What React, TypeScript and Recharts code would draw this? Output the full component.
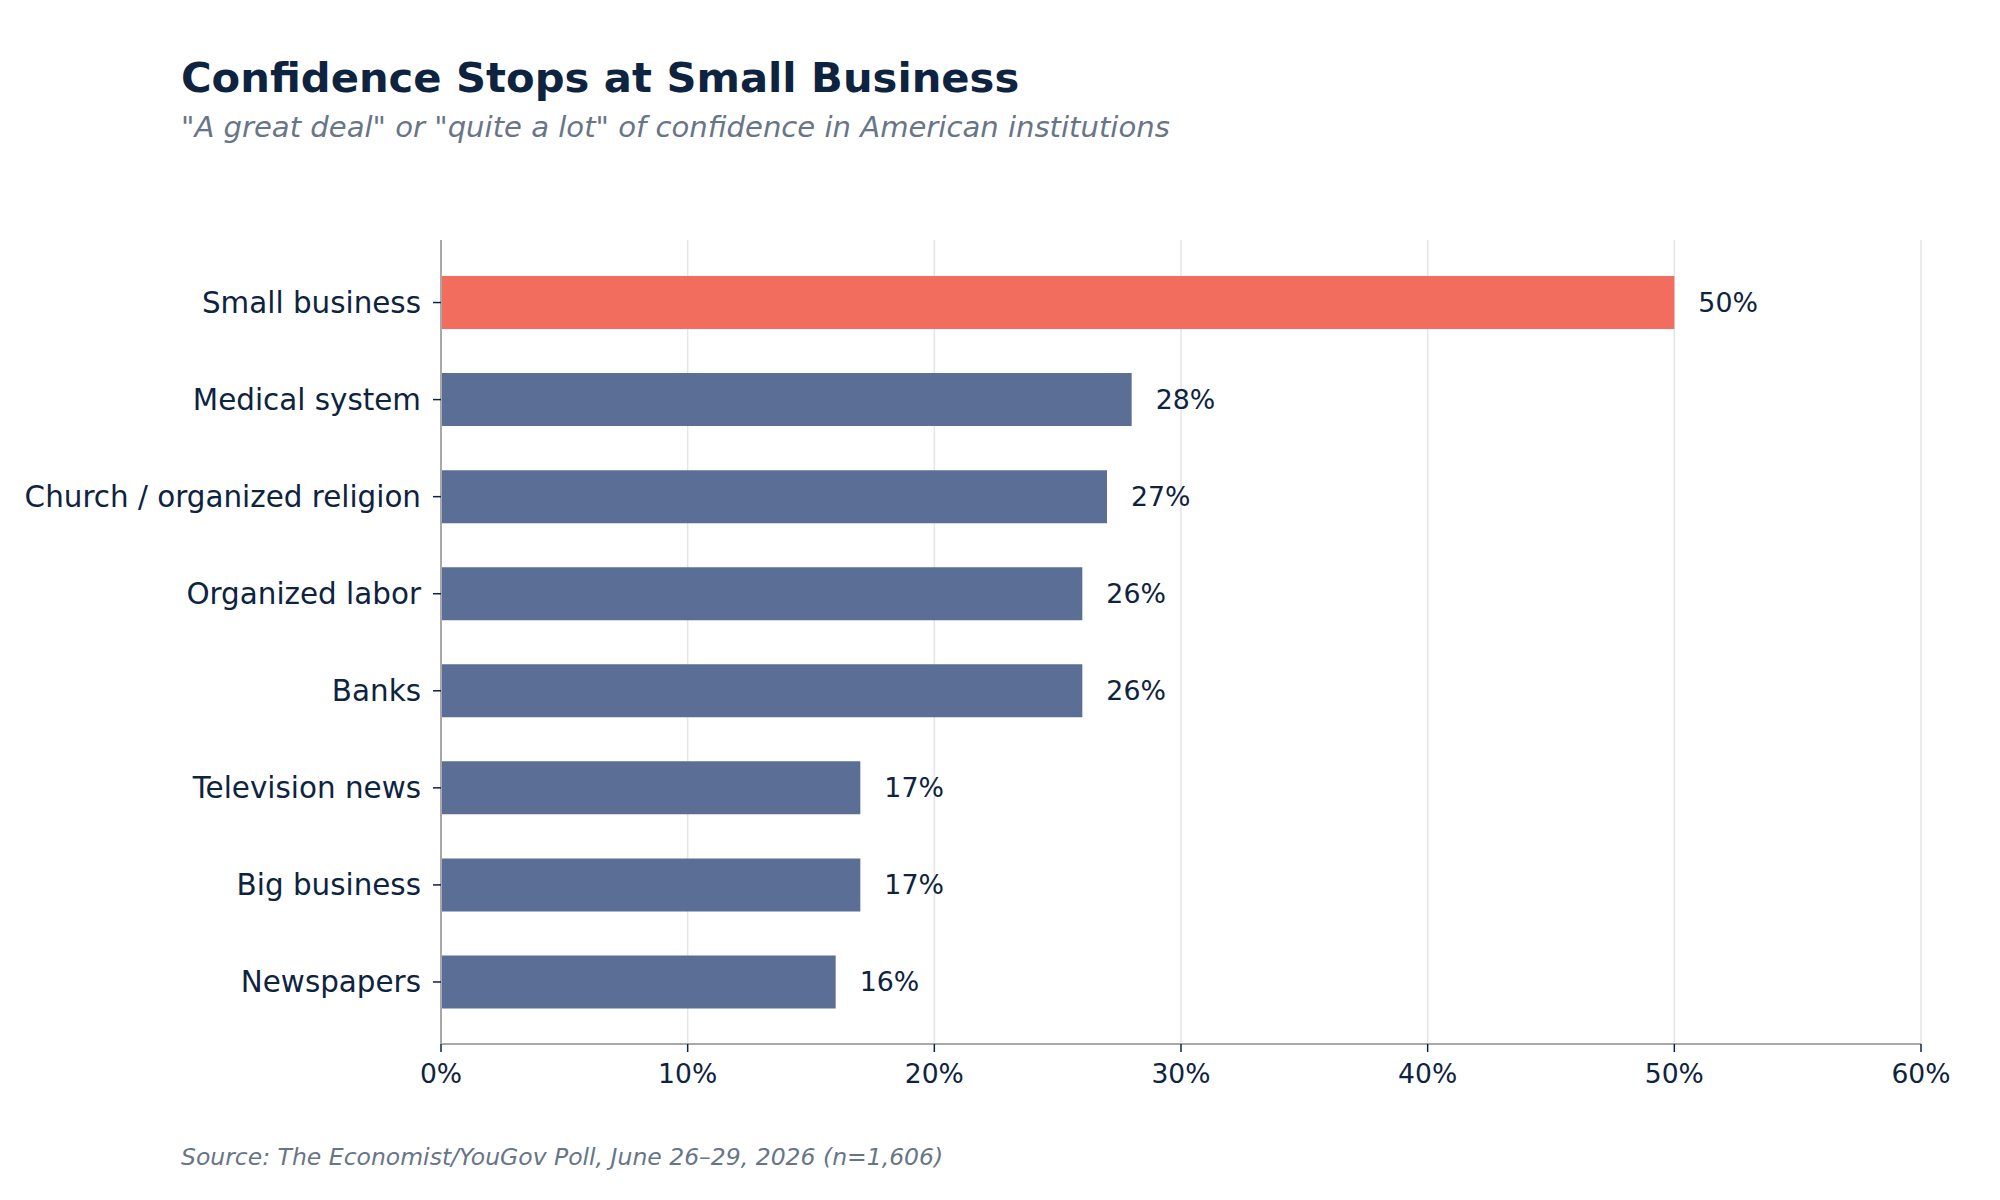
import React from "react";
import { BarChart, Bar, XAxis, YAxis, CartesianGrid, Cell, LabelList } from "recharts";

const categories = [
  "Small business",
  "Medical system",
  "Church / organized religion",
  "Organized labor",
  "Banks",
  "Television news",
  "Big business",
  "Newspapers",
];
const confidence = [50, 28, 27, 26, 26, 17, 17, 16];
const xTicks = [0, 10, 20, 30, 40, 50, 60];
const highlighted = "Small business";

const TITLE = "Confidence Stops at Small Business";
const SUBTITLE = "\"A great deal\" or \"quite a lot\" of confidence in American institutions";
const SOURCE = "Source: The Economist/YouGov Poll, June 26\u201329, 2026 (n=1,606)";

const data = categories.map((name, i) => ({ name, value: confidence[i] }));

const NAVY = "#0e2340";
const GRAY_TEXT = "#687587";
const FONT = "DejaVu Sans, sans-serif";

export default function App() {
  return (
    <div style={{ position: "absolute", left: 0, top: 0, width: 2000, height: 1200, background: "#fff", fontFamily: FONT }}>
      <BarChart
        width={2000}
        height={1200}
        data={data}
        layout="vertical"
        margin={{ top: 240, right: 79, bottom: 96, left: 0 }}
      >
        <CartesianGrid horizontal={false} vertical={true} stroke="#e3e5e9" strokeWidth={1.5} />
        <XAxis
          type="number"
          domain={[0, 60]}
          ticks={xTicks}
          tickFormatter={(v: number) => `${v}%`}
          height={60}
          axisLine={{ stroke: "#a8a8a8", strokeWidth: 2 }}
          tickLine={{ stroke: NAVY, strokeWidth: 1.5 }}
          tickSize={8}
          tickMargin={12}
          tick={{ fill: NAVY, fontSize: 26.6, fontFamily: FONT }}
          interval={0}
        />
        <YAxis
          type="category"
          dataKey="name"
          width={441}
          padding={{ top: 14, bottom: 13.5 }}
          axisLine={{ stroke: "#a8a8a8", strokeWidth: 2 }}
          tickLine={{ stroke: NAVY, strokeWidth: 1.5 }}
          tickSize={8}
          tickMargin={12}
          tick={{ fill: NAVY, fontSize: 29.4, fontFamily: FONT }}
          interval={0}
        />
        <Bar dataKey="value" barSize={53} isAnimationActive={false}>
          {data.map((d) => (
            <Cell key={d.name} fill={d.name === highlighted ? "#f26d5d" : "#5a6e96"} />
          ))}
          <LabelList
            dataKey="value"
            position="right"
            offset={24}
            formatter={(v: any) => `${v}%`}
            fill={NAVY}
            style={{ fontSize: 26.8, fontFamily: FONT, fill: NAVY }}
          />
        </Bar>
      </BarChart>
      <svg width={2000} height={1200} style={{ position: "absolute", left: 0, top: 0, pointerEvents: "none" }}>
        <text x={181} y={92} fontFamily={FONT} fontSize={41.7} fontWeight="bold" fill={NAVY}>
          {TITLE}
        </text>
        <text x={181} y={137} fontFamily={FONT} fontSize={29.1} fontStyle="italic" fill={GRAY_TEXT}>
          {SUBTITLE}
        </text>
        <text x={181} y={1165} fontFamily={FONT} fontSize={23.5} fontStyle="italic" fill={GRAY_TEXT}>
          {SOURCE}
        </text>
      </svg>
    </div>
  );
}
